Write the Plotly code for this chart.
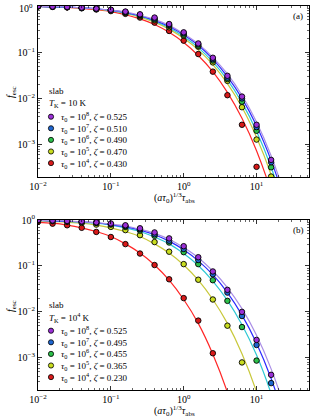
import plotly.graph_objects as go

W, H = 310, 418

# ---------------- data ----------------
# log10 x positions at which the fitted curves were read
LX_LINE = [-2.0, -1.8, -1.6, -1.4, -1.2, -1.0, -0.8, -0.6, -0.4, -0.2,
           0.0, 0.2, 0.4, 0.6, 0.8, 1.0, 1.2, 1.4, 1.6]
# fitted curves: -100*log10(f_esc)
LINE_A_0525 = [1, 1, 2, 4, 6, 9, 13, 20, 29, 42, 60, 82, 111, 147, 193, 251, 324, 416, 531]
LINE_A_0510 = [1, 2, 2, 4, 6, 9, 14, 21, 31, 44, 62, 85, 115, 153, 200, 259, 334, 429, 547]
LINE_A_0490 = [1, 2, 3, 4, 6, 10, 15, 22, 33, 47, 66, 90, 121, 160, 209, 271, 349, 447, 571]
LINE_A_0470 = [1, 2, 3, 4, 7, 10, 16, 24, 35, 50, 70, 95, 127, 168, 219, 284, 365, 468, 597]
LINE_A_0430 = [1, 2, 3, 5, 8, 12, 19, 28, 40, 57, 79, 107, 142, 187, 243, 313, 402, 514, 655]

LINE_B_0525 = [1, 1, 2, 4, 6, 9, 13, 20, 29, 42, 60, 82, 111, 147, 193, 251, 324, 416, 531]
LINE_B_0495 = [1, 2, 3, 4, 6, 10, 15, 22, 32, 46, 65, 89, 119, 158, 207, 268, 345, 443, 565]
LINE_B_0455 = [1, 2, 3, 5, 7, 11, 17, 25, 37, 52, 73, 99, 133, 175, 228, 294, 378, 484, 617]
LINE_B_0365 = [2, 3, 5, 7, 11, 17, 25, 36, 52, 72, 98, 131, 173, 225, 291, 374, 479, 611, 777]
LINE_B_0230 = [5, 7, 11, 17, 25, 36, 52, 72, 98, 131, 173, 225, 292, 375, 480, 612, 778, 987, None]

# simulation points: log10 x and log10 f_esc
LX_PTS = [-2.0, -1.8, -1.6, -1.4, -1.2, -1.0, -0.8, -0.6, -0.4, -0.2,
          0.0, 0.2, 0.4, 0.6, 0.8, 1.0, 1.2]
PTS_A_1e8 = [-0.005, -0.012, -0.02, -0.035, -0.055, -0.08, -0.12, -0.18, -0.25, -0.39,
             -0.57, -0.81, -1.12, -1.51, -1.96, -2.57, -3.33]
PTS_A_1e7 = [-0.005, -0.013, -0.022, -0.037, -0.058, -0.085, -0.13, -0.19, -0.27, -0.41,
             -0.59, -0.83, -1.15, -1.55, -2.00, -2.62, -3.38]
PTS_A_1e6 = [-0.006, -0.014, -0.025, -0.04, -0.062, -0.09, -0.14, -0.20, -0.29, -0.43,
             -0.62, -0.86, -1.18, -1.58, -2.07, -2.70, -3.49]
PTS_A_1e5 = [-0.006, -0.015, -0.027, -0.043, -0.066, -0.095, -0.15, -0.22, -0.31, -0.46,
             -0.64, -0.88, -1.22, -1.62, -2.19, -2.89, -3.69]
PTS_A_1e4 = [-0.01, -0.02, -0.03, -0.05, -0.075, -0.11, -0.17, -0.25, -0.36, -0.54,
             -0.75, -1.04, -1.42, -1.93, -2.57, -3.48, None]

PTS_B_1e8 = [-0.003, -0.01, -0.02, -0.03, -0.05, -0.075, -0.115, -0.18, -0.27, -0.40,
             -0.57, -0.81, -1.12, -1.52, -2.00, -2.61, -3.37]
PTS_B_1e7 = [-0.004, -0.012, -0.022, -0.035, -0.055, -0.085, -0.13, -0.20, -0.31, -0.45,
             -0.63, -0.87, -1.18, -1.58, -2.09, -2.72, -3.55]
PTS_B_1e6 = [-0.005, -0.015, -0.025, -0.04, -0.065, -0.10, -0.15, -0.23, -0.345, -0.49,
             -0.70, -0.96, -1.31, -1.76, -2.33, -3.06, None]
PTS_B_1e5 = [-0.01, -0.025, -0.04, -0.065, -0.10, -0.15, -0.22, -0.33, -0.48, -0.69,
             -0.96, -1.30, -1.73, -2.30, -3.10, None, None]
PTS_B_1e4 = [-0.04, -0.08, -0.115, -0.17, -0.26, -0.37, -0.525, -0.73, -0.98, -1.29,
             -1.70, -2.19, -2.90, None, None, None, None]

TAU_EXP = ["8", "7", "6", "5", "4"]
ZETA_A = ["0.525", "0.510", "0.490", "0.470", "0.430"]
ZETA_B = ["0.525", "0.495", "0.455", "0.365", "0.230"]
TK_A = "10 K"
TK_B = "10<sup>4</sup> K"

MARKER_COLORS = ["#9a2fd6", "#1f66d0", "#2cc04a", "#c9dd1e", "#d81a1a"]
LINE_COLORS = ["#aa8ee6", "#2a2aff", "#2ec8d4", "#c8c83a", "#ff2626"]

X_TICKS = [0.01, 0.1, 1, 10]
X_TICKTEXT = ["10<sup>\u22122</sup>", "10<sup>\u22121</sup>", "10<sup>0</sup>", "10<sup>1</sup>"]
Y_TICKS = [1, 0.1, 0.01, 0.001]
Y_TICKTEXT = ["10<sup>0</sup>", "10<sup>\u22121</sup>", "10<sup>\u22122</sup>", "10<sup>\u22123</sup>"]

# ---------------- figure ----------------
FONT = "Liberation Serif"
fig = go.Figure()

panels = [
    ("x", "y", [LINE_A_0525, LINE_A_0510, LINE_A_0490, LINE_A_0470, LINE_A_0430],
     [PTS_A_1e8, PTS_A_1e7, PTS_A_1e6, PTS_A_1e5, PTS_A_1e4]),
    ("x2", "y2", [LINE_B_0525, LINE_B_0495, LINE_B_0455, LINE_B_0365, LINE_B_0230],
     [PTS_B_1e8, PTS_B_1e7, PTS_B_1e6, PTS_B_1e5, PTS_B_1e4]),
]

for xa, ya, lines, pts in panels:
    for i in range(4, -1, -1):
        xs, ys = [], []
        for lx, v in zip(LX_LINE, lines[i]):
            if v is None:
                continue
            xs.append(10 ** lx)
            ys.append(10 ** (-v / 100.0))
        fig.add_trace(go.Scatter(x=xs, y=ys, mode="lines", xaxis=xa, yaxis=ya,
                                 line=dict(color=LINE_COLORS[i], width=1.2, shape="spline"),
                                 showlegend=False, hoverinfo="skip"))
    for i in range(4, -1, -1):
        xs, ys = [], []
        for lx, v in zip(LX_PTS, pts[i]):
            if v is None:
                continue
            xs.append(10 ** lx)
            ys.append(10 ** v)
        fig.add_trace(go.Scatter(x=xs, y=ys, mode="markers", xaxis=xa, yaxis=ya,
                                 marker=dict(color=MARKER_COLORS[i], size=5.5,
                                             line=dict(color="black", width=0.9)),
                                 showlegend=False, hoverinfo="skip"))


def px(x):
    return x / W


def py(y):
    return 1 - y / H


X0, X1 = 38, 309
PANEL = [(6, 177), (220, 390)]
XR = [-2.0, 1.72]
YR = [-3.7, 0.0]

minor_x = [k * 10 ** e for e in range(-2, 2) for k in range(2, 10)]
minor_y = [k * 10 ** e for e in range(-4, 0) for k in range(2, 10)]

common_axis = dict(type="log", showgrid=False, zeroline=False, showline=True,
                   linecolor="black", linewidth=1, mirror="allticks", ticks="inside",
                   ticklen=4, tickwidth=0.8, tickcolor="black", automargin=False,
                   tickfont=dict(family=FONT, size=10, color="black"))

for k, (top, bot) in enumerate(PANEL):
    sfx = "" if k == 0 else "2"
    # the top label of panel (a) sits at the page edge; it is drawn as an annotation
    ytext = ([""] + Y_TICKTEXT[1:]) if k == 0 else Y_TICKTEXT
    fig.update_layout(**{
        "xaxis" + sfx: dict(common_axis, domain=[px(X0), px(X1)], range=XR,
                            anchor="y" + sfx, tickvals=X_TICKS, ticktext=X_TICKTEXT,
                            minor=dict(ticks="inside", ticklen=2, tickwidth=0.6,
                                       tickcolor="black", tickvals=minor_x, showgrid=False)),
        "yaxis" + sfx: dict(common_axis, domain=[py(bot), py(top)], range=YR,
                            anchor="x" + sfx, tickvals=Y_TICKS, ticktext=ytext,
                            minor=dict(ticks="inside", ticklen=2, tickwidth=0.6,
                                       tickcolor="black", tickvals=minor_y, showgrid=False)),
    })


def note(x, y, text, size=9, xanchor="center", angle=0):
    return dict(x=px(x), y=py(y), xref="paper", yref="paper", text=text,
                xanchor=xanchor, yanchor="middle", textangle=angle, showarrow=False,
                font=dict(family=FONT, size=size, color="black"))


annotations = [note(35, 8, Y_TICKTEXT[0], size=10, xanchor="right")]
shapes = []
for k, (top, bot) in enumerate(PANEL):
    zetas = ZETA_A if k == 0 else ZETA_B
    tk = TK_A if k == 0 else TK_B
    annotations.append(note(174, bot + 21,
                            "(<i>a\u03c4</i><sub>0</sub>)<sup>1/3</sup><i>\u03c4</i><sub>abs</sub>",
                            size=10))
    annotations.append(note(11, top + 86, "<i>f</i><sub>esc</sub>", size=10, angle=-90))
    annotations.append(note(298, top + 10, "(a)" if k == 0 else "(b)", size=9))
    annotations.append(note(47, top + 85, "slab", xanchor="left"))
    annotations.append(note(47, top + 97, "<i>T</i><sub>K</sub> = " + tk, xanchor="left"))
    for i in range(5):
        yy = top + 110.7 + 11.6 * i
        shapes.append(dict(type="circle", xref="paper", yref="paper",
                           x0=px(51 - 2.6), x1=px(51 + 2.6), y0=py(yy + 2.6), y1=py(yy - 2.6),
                           fillcolor=MARKER_COLORS[i], line=dict(color="black", width=0.8)))
        annotations.append(note(59, yy, "<i>\u03c4</i><sub>0</sub> = 10<sup>" + TAU_EXP[i] +
                                "</sup>, <i>\u03b6</i> = " + zetas[i], xanchor="left"))

fig.update_layout(width=W, height=H, margin=dict(l=0, r=0, t=0, b=0),
                  paper_bgcolor="white", plot_bgcolor="white",
                  annotations=annotations, shapes=shapes, showlegend=False)

fig.write_html("out.html", config={"displayModeBar": False, "staticPlot": True},
               post_script="document.body.style.margin='0';document.body.style.overflow='hidden';")
